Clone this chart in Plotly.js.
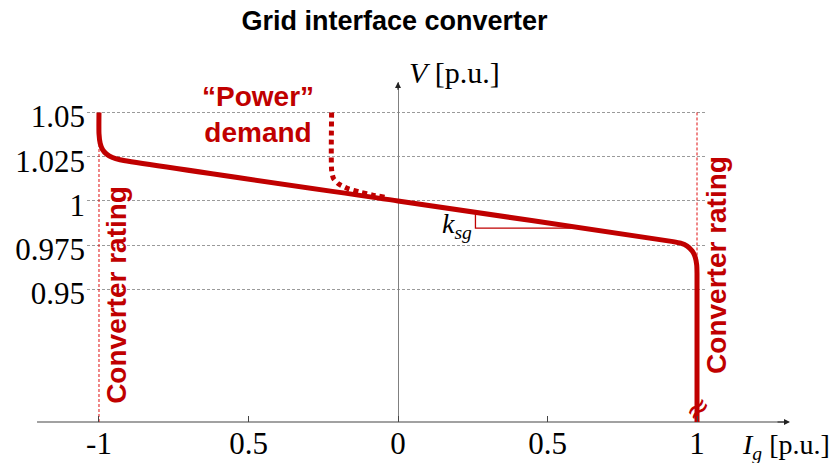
<!DOCTYPE html>
<html>
<head>
<meta charset="utf-8">
<script src="https://cdn.plot.ly/plotly-3.0.1.min.js"></script>
<style>html,body{margin:0;padding:0;background:#ffffff;}</style>
</head>
<body>
<div id="chart" style="width:834px;height:463px;"></div>
<script>
// Droop characteristic of the grid interface converter: current I_g [p.u.] vs voltage V [p.u.]
const droopI = [-1.0, -1.0, -0.996, -0.988, -0.975, -0.955, -0.93, 0.0, 0.92, 0.945, 0.967, 0.984, 0.994, 0.999, 1.0, 1.0];
const droopV = [1.05, 1.038, 1.0325, 1.029, 1.0265, 1.0245, 1.02325, 1.0, 0.977, 0.9761, 0.9745, 0.9717, 0.9682, 0.9638, 0.959, 0.8751];

// "Power" demand curve merging into the droop line
const demandI = [-0.222, -0.222, -0.216, -0.198, -0.165, -0.125, -0.085, -0.045];
const demandV = [1.05, 1.0175, 1.0128, 1.0095, 1.0068, 1.0049, 1.0033, 1.0021];

// Converter rating limits at |I_g| = 1
const ratingLeftI = [-1, -1];
const ratingLeftV = [0.8751, 1.036];
const ratingRightI = [1, 1];
const ratingRightV = [1.05, 0.965];

// Slope triangle for k_sg
const slopeI = [0.259, 0.259, 0.6];
const slopeV = [0.99353, 0.9846, 0.9846];

// Axis ticks
const xTickVals = [-1, -0.5, 0, 0.5, 1];
const xTickText = ['-1', '0.5', '0', '0.5', '1'];
const yTickVals = [0.95, 0.975, 1, 1.025, 1.05];
const yTickText = ['0.95', '0.975', '1', '1.025', '1.05'];

const xRange = [-1.0401, 1.0334];
const yRange = [0.8751, 1.0672];

const red = '#c00000';
const serif = 'Liberation Serif, Times New Roman, serif';
const sans = 'Liberation Sans, Arial, sans-serif';

const traces = [
  { x: ratingLeftI, y: ratingLeftV, mode: 'lines', hoverinfo: 'skip',
    line: { color: '#e01010', width: 1, dash: '3px,2px' } },
  { x: ratingRightI, y: ratingRightV, mode: 'lines', hoverinfo: 'skip',
    line: { color: '#e01010', width: 1, dash: '3px,2px' } },
  { x: slopeI, y: slopeV, mode: 'lines', hoverinfo: 'skip',
    line: { color: red, width: 1.3 } },
  { x: droopI, y: droopV, mode: 'lines', hoverinfo: 'skip',
    line: { color: red, width: 5, shape: 'spline', smoothing: 0.5 } },
  { x: demandI, y: demandV, mode: 'lines', hoverinfo: 'skip',
    line: { color: red, width: 5, dash: '5px,4px', shape: 'spline', smoothing: 0.6 } }
];

const layout = {
  width: 834, height: 463,
  margin: { l: 87, r: 127, t: 82, b: 41 },
  paper_bgcolor: '#ffffff', plot_bgcolor: '#ffffff',
  showlegend: false,
  title: {
    text: '<b>Grid interface converter</b>',
    font: { family: sans, size: 27, color: '#000000' },
    x: 0.473, xanchor: 'center', y: 0.955, yanchor: 'middle', xref: 'container', yref: 'container'
  },
  xaxis: {
    range: xRange, showgrid: false, showline: false,
    zeroline: true, zerolinecolor: '#808080', zerolinewidth: 1,
    tickmode: 'array', tickvals: xTickVals, ticktext: xTickText,
    ticks: 'inside', ticklen: 6, tickcolor: '#444444', tickwidth: 1,
    tickfont: { family: serif, size: 31, color: '#000000' },
    ticklabelstandoff: 0, fixedrange: true
  },
  yaxis: {
    range: yRange, showline: false, zeroline: false,
    showgrid: true, gridcolor: '#9a9a9a', gridwidth: 1, griddash: '3px,2px',
    tickmode: 'array', tickvals: yTickVals, ticktext: yTickText,
    ticks: '', tickfont: { family: serif, size: 31, color: '#000000' },
    ticklabelstandoff: 1, ticklabelshift: 4, fixedrange: true
  },
  shapes: [
    { type: 'line', layer: 'below', xref: 'paper', yref: 'paper',
      x0: -0.0806, x1: 1.13, y0: 0, y1: 0, line: { color: '#444444', width: 1.2 } }
  ],
  annotations: [
    // axis arrowheads
    { xref: 'x', yref: 'y', axref: 'x', ayref: 'y', x: 0, y: 1.0672, ax: 0, ay: 1.062,
      text: '', showarrow: true, arrowhead: 2, arrowsize: 1, arrowwidth: 1.2, arrowcolor: '#222222' },
    { xref: 'paper', yref: 'paper', x: 1.1339, y: 0, ax: -14, ay: 0,
      text: '', showarrow: true, arrowhead: 2, arrowsize: 1, arrowwidth: 1.2, arrowcolor: '#222222' },
    // axis titles
    { xref: 'x', yref: 'paper', x: 0.03, y: 1.0265, xanchor: 'left', yanchor: 'middle', showarrow: false,
      text: '<i>V</i> [p.u.]', font: { family: serif, size: 30, color: '#000000' } },
    { xref: 'paper', yref: 'paper', x: 1.0532, y: -0.0735, xanchor: 'left', yanchor: 'middle', showarrow: false,
      text: '<i>I<sub>g</sub></i> [p.u.]', font: { family: serif, size: 28, color: '#000000' } },
    // rating labels
    { xref: 'x', yref: 'y', x: -0.94, y: 0.9469, textangle: -90, showarrow: false,
      xanchor: 'center', yanchor: 'middle',
      text: '<b>Converter rating</b>', font: { family: sans, size: 28, color: red } },
    { xref: 'paper', yref: 'paper', x: 1.016, y: 0.4618, textangle: -90, showarrow: false,
      xanchor: 'center', yanchor: 'middle',
      text: '<b>Converter rating</b>', font: { family: sans, size: 28, color: red } },
    // power demand label
    { xref: 'x', yref: 'y', x: -0.468, y: 1.049, showarrow: false, xanchor: 'center', yanchor: 'middle',
      text: '<b>\u201cPower\u201d<br>demand</b>', font: { family: sans, size: 28, color: red } },
    // droop gain label
    { xref: 'x', yref: 'y', x: 0.254, y: 0.9864, showarrow: false, xanchor: 'right', yanchor: 'middle',
      text: '<i>k<sub>sg</sub></i>', font: { family: serif, size: 28, color: '#000000' } },
    // axis break mark on the rating line
    { xref: 'x', yref: 'y', x: 1, y: 0.8826, showarrow: false, textangle: -40,
      xanchor: 'center', yanchor: 'middle',
      text: '\u2248', font: { family: 'DejaVu Sans', size: 30, color: red } }
  ]
};

Plotly.newPlot('chart', traces, layout, { staticPlot: true, displayModeBar: false });
</script>
</body>
</html>
